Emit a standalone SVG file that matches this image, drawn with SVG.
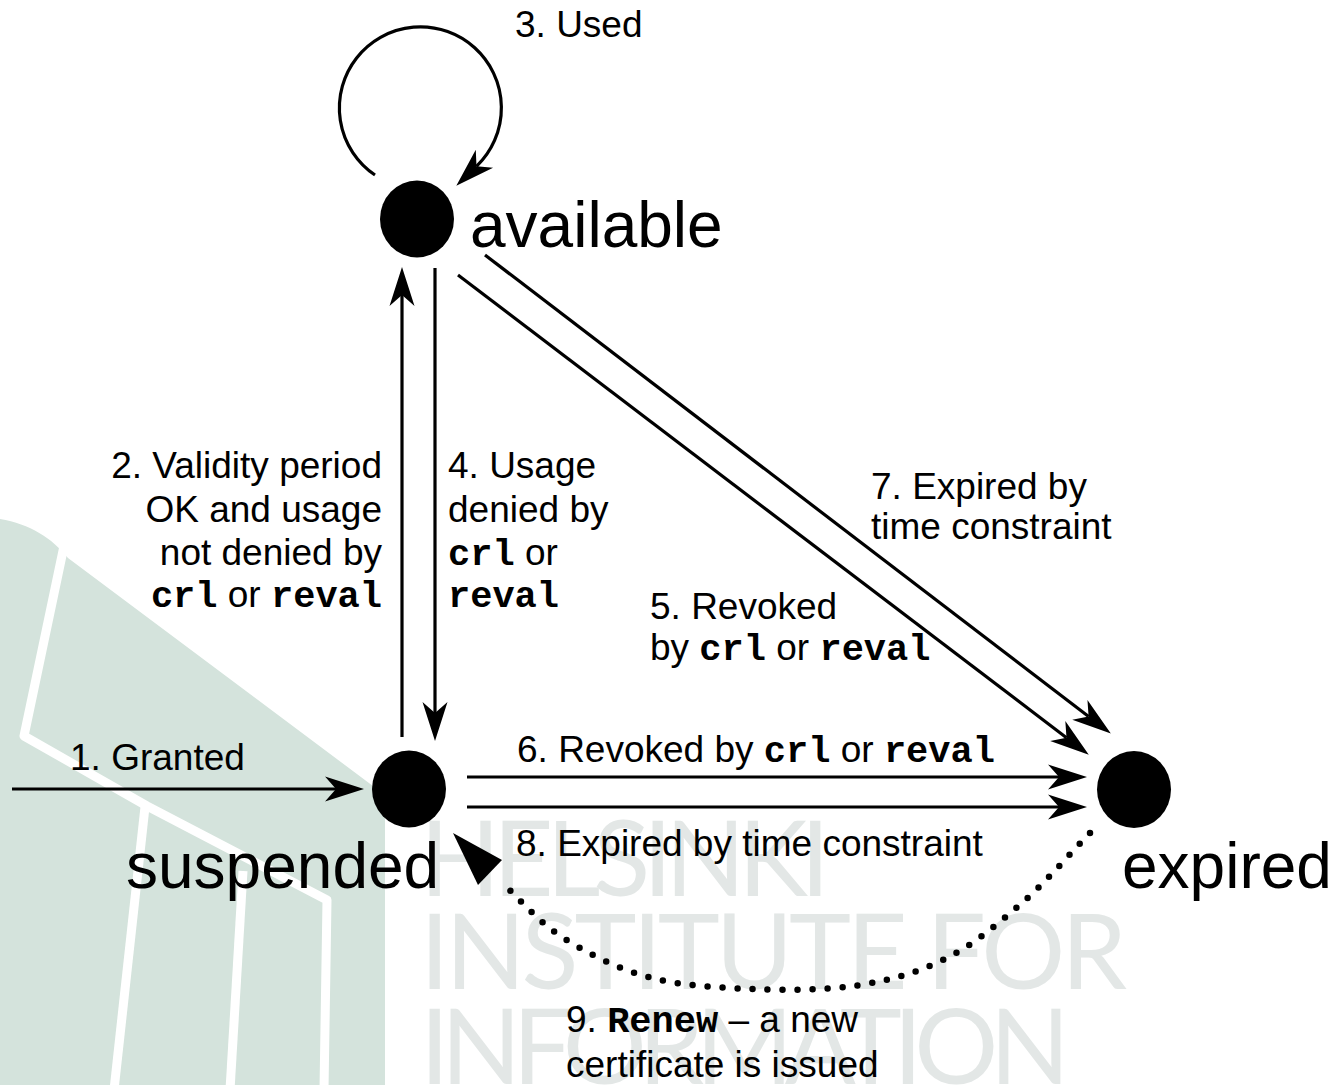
<svg xmlns="http://www.w3.org/2000/svg" width="1338" height="1085" viewBox="0 0 1338 1085">
  <style>
    .lbl { font-family: "Liberation Sans", Arial, sans-serif; font-size: 37px; fill: #000; }
    .big { font-family: "Liberation Sans", Arial, sans-serif; font-size: 64px; fill: #000; }
    .mono { font-family: "Liberation Mono", Cousine, "Courier New", "Nimbus Mono PS", "Nimbus Mono L", FreeMono, monospace; font-weight: bold; }
    .wm { font-family: Lato, "Open Sans", sans-serif; font-weight: 400; font-size: 105px; fill: #e3e7e6; }
    .edge { fill: none; stroke: #000; stroke-width: 3.2; marker-end: url(#ah); }
    .stripe { fill: none; stroke: #fff; stroke-width: 9; stroke-linejoin: round; }
    .node { fill: #000; }
  </style>
  <defs>
    <!-- barbed arrowhead; the line ends at the notch, the tip sits 27px further on -->
    <marker id="ah" markerUnits="userSpaceOnUse" viewBox="-15 -15 45 30" markerWidth="45" markerHeight="30" refX="0" refY="0" orient="auto">
      <path d="M28,0 L-11,-12.5 L0,0 L-11,12.5 Z" fill="#000"/>
    </marker>
  </defs>

  <rect width="1338" height="1085" fill="#fff"/>

  <!-- background logo -->
  <g id="logo">
    <path d="M0,519 C30,524 52,538 68,558 L385,795 L385,1085 L0,1085 Z" fill="#d4e3dc"/>
    <path class="stripe" d="M64,546 L24,736 L147,806 L327,900 L324,1090"/>
    <path class="stripe" d="M145,807 L114,1090"/>
    <path class="stripe" d="M243,871 L230,1090"/>
    <text class="wm" x="420" y="896" textLength="410" lengthAdjust="spacing">HELSINKI</text>
    <text class="wm" x="420" y="989" textLength="707" lengthAdjust="spacing">INSTITUTE FOR</text>
    <text class="wm" x="420" y="1084" textLength="650" lengthAdjust="spacing">INFORMATION</text>
  </g>

  <!-- transitions -->
  <g id="connectors">
    <path id="e1" class="edge" d="M12,789 L336,789"/>
    <path id="e2" class="edge" d="M402,737 L402,295"/>
    <path id="e3" class="edge" d="M375,175 A81,81 0 1 1 476.5,166.3"/>
    <path id="e4" class="edge" d="M435,268 L435,713"/>
    <path id="e5" class="edge" d="M458,275 L1066.5,737.7"/>
    <path id="e6" class="edge" d="M467,777 L1059,777"/>
    <path id="e7" class="edge" d="M485,255 L1088.6,716.6"/>
    <path id="e8" class="edge" d="M467,807 L1059,807"/>
    <g id="e9">
      <path d="M1090,833 C1067.7,856 1046.8,881.2 1023,902 C999.2,922.8 974.2,944.2 947,958 C919.8,971.8 892.3,979.8 860,985 C827.7,990.2 788.3,990.3 753,989 C717.7,987.7 679.8,985.7 648,977 C616.2,968.3 586.3,952.7 562,937 C537.7,921.3 522,901 502,883" fill="none" stroke="#000" stroke-width="6.5" stroke-linecap="round" stroke-dasharray="0 15"/>
      <polygon points="453,833 502,860 478,885" fill="#000"/>
    </g>
  </g>

  <!-- states -->
  <g id="available">
    <ellipse class="node" cx="417" cy="219" rx="37" ry="38.5"/>
    <text class="big" x="470" y="247">available</text>
  </g>
  <g id="suspended">
    <ellipse class="node" cx="409" cy="789" rx="37" ry="38.5"/>
    <text class="big" x="126" y="888">suspended</text>
  </g>
  <g id="expired">
    <ellipse class="node" cx="1134" cy="789.5" rx="37" ry="38.5"/>
    <text class="big" x="1122" y="888">expired</text>
  </g>

  <!-- transition labels -->
  <g id="labels">
    <text class="lbl" x="70" y="770">1. Granted</text>
    <text class="lbl" text-anchor="end"><tspan x="382" y="478">2. Validity period</tspan><tspan x="382" y="521.5">OK and usage</tspan><tspan x="382" y="565">not denied by</tspan><tspan x="382" y="607"><tspan class="mono">crl</tspan> or <tspan class="mono">reval</tspan></tspan></text>
    <text class="lbl" x="515" y="37">3. Used</text>
    <text class="lbl"><tspan x="448" y="478">4. Usage</tspan><tspan x="448" y="521.5">denied by</tspan><tspan x="448" y="565"><tspan class="mono">crl</tspan> or</tspan><tspan x="448" y="607" class="mono">reval</tspan></text>
    <text class="lbl"><tspan x="650" y="619">5. Revoked</tspan><tspan x="650" y="660">by <tspan class="mono">crl</tspan> or <tspan class="mono">reval</tspan></tspan></text>
    <text class="lbl" x="517" y="762">6. Revoked by <tspan class="mono">crl</tspan> or <tspan class="mono">reval</tspan></text>
    <text class="lbl"><tspan x="871" y="499">7. Expired by</tspan><tspan x="871" y="539">time constraint</tspan></text>
    <text class="lbl" x="516" y="856">8. Expired by time constraint</text>
    <text class="lbl"><tspan x="566" y="1032">9. <tspan class="mono">Renew</tspan> – a new</tspan><tspan x="566" y="1077">certificate is issued</tspan></text>
  </g>
</svg>
